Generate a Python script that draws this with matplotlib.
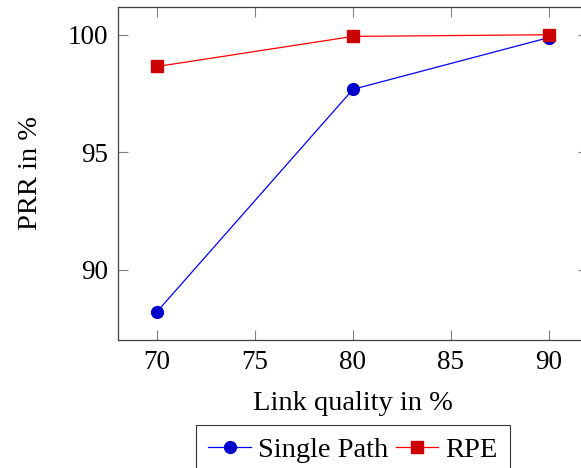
import matplotlib
matplotlib.use("Agg")
import matplotlib.pyplot as plt

link_quality = [70, 80, 90]
single_path = [88.23, 97.68, 99.88]
rpe = [98.65, 99.93, 100.0]
xticks = [70, 75, 80, 85, 90]
yticks = [90, 95, 100]

plt.rcParams['font.family'] = ['Liberation Serif', 'DejaVu Serif']

fig = plt.figure(figsize=(5.81, 4.68), dpi=100)
ax = fig.add_axes([118/581, 128/468, 470/581, 333/468])

ax.plot(link_quality, single_path, color='#0000ff', lw=0.9, marker='o', ms=8.5,
        markerfacecolor='#0000cc', markeredgecolor='#0000cc', label='Single Path')
ax.plot(link_quality, rpe, color='#ff0000', lw=0.9, marker='s', ms=8,
        markerfacecolor='#cc0000', markeredgecolor='#cc0000', label='RPE')

ax.set_xlim(68, 92)
ax.set_ylim(87.02, 101.18)
ax.set_xticks(xticks)
ax.set_yticks(yticks)
ax.tick_params(direction='in', length=7.5, width=0.8, color='#808080',
               top=True, right=True, labelsize=19.5, pad=7)
for s in ax.spines.values():
    s.set_color('#404040')
    s.set_linewidth(0.9)

ax.set_xlabel('Link quality in %', fontsize=20.5, labelpad=12)
ax.set_ylabel('PRR in %', fontsize=20.5, labelpad=18)

leg = fig.legend(loc='upper center', bbox_to_anchor=(353/581, 1 - 425/468), ncol=2,
                 fontsize=20.5, frameon=True, fancybox=False, edgecolor='black',
                 handlelength=1.5, handletextpad=0.25, columnspacing=0.25,
                 borderpad=0.42, borderaxespad=0)
leg.get_frame().set_linewidth(0.8)

fig.savefig('out.png', dpi=100)
